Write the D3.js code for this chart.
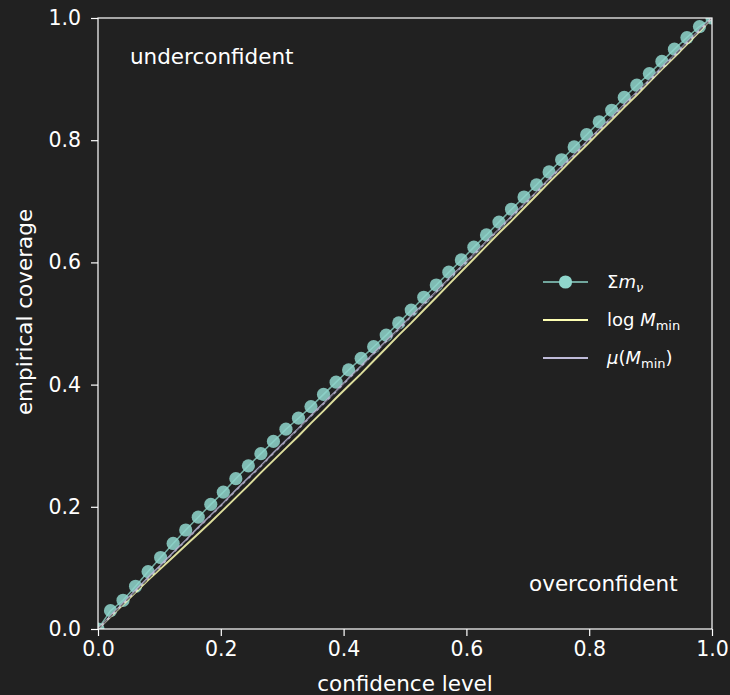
<!DOCTYPE html>
<html>
<head>
<meta charset="utf-8">
<script src="https://cdn.jsdelivr.net/npm/d3@7"></script>
<style>
  html, body { margin: 0; padding: 0; background: #212121; }
  svg text { font-family: "DejaVu Sans", sans-serif; fill: #ffffff; }
</style>
</head>
<body>
<div id="chart"></div>
<script>
// confidence levels (50 evenly spaced points)
var confidence = [0, 0.0204, 0.0408, 0.0612, 0.0816, 0.1020, 0.1224, 0.1429, 0.1633, 0.1837,
  0.2041, 0.2245, 0.2449, 0.2653, 0.2857, 0.3061, 0.3265, 0.3469, 0.3673, 0.3878,
  0.4082, 0.4286, 0.4490, 0.4694, 0.4898, 0.5102, 0.5306, 0.5510, 0.5714, 0.5918,
  0.6122, 0.6327, 0.6531, 0.6735, 0.6939, 0.7143, 0.7347, 0.7551, 0.7755, 0.7959,
  0.8163, 0.8367, 0.8571, 0.8776, 0.8980, 0.9184, 0.9388, 0.9592, 0.9796, 1.0];

// empirical coverage per parameter
var coverageMnu = [0, 0.03, 0.047, 0.07, 0.094, 0.117, 0.14, 0.162, 0.183, 0.204,
  0.224, 0.246, 0.267, 0.287, 0.307, 0.327, 0.345, 0.364, 0.384, 0.404,
  0.424, 0.443, 0.462, 0.481, 0.501, 0.522, 0.543, 0.563, 0.584, 0.604,
  0.625, 0.645, 0.666, 0.687, 0.707, 0.727, 0.748, 0.768, 0.789, 0.809,
  0.83, 0.849, 0.87, 0.89, 0.909, 0.929, 0.949, 0.968, 0.986, 1.0];
var coverageLogM = [0, 0.02, 0.04, 0.06, 0.08, 0.099, 0.118, 0.137, 0.156, 0.175,
  0.195, 0.215, 0.235, 0.256, 0.276, 0.296, 0.316, 0.337, 0.357, 0.378,
  0.398, 0.418, 0.439, 0.46, 0.481, 0.501, 0.522, 0.543, 0.564, 0.585,
  0.606, 0.627, 0.648, 0.668, 0.689, 0.71, 0.731, 0.751, 0.772, 0.792,
  0.813, 0.833, 0.854, 0.874, 0.895, 0.916, 0.936, 0.957, 0.978, 1.0];
var coverageMuM = [0, 0.021, 0.042, 0.063, 0.084, 0.104, 0.125, 0.145, 0.166, 0.186,
  0.206, 0.227, 0.247, 0.267, 0.288, 0.308, 0.328, 0.349, 0.369, 0.389,
  0.41, 0.43, 0.451, 0.471, 0.491, 0.512, 0.532, 0.552, 0.573, 0.593,
  0.613, 0.634, 0.654, 0.675, 0.695, 0.715, 0.736, 0.756, 0.776, 0.797,
  0.817, 0.837, 0.858, 0.878, 0.898, 0.919, 0.939, 0.96, 0.98, 1.0];

var tickValues = [0, 0.2, 0.4, 0.6, 0.8, 1.0];

var width = 730;
var height = 695;
var margin = { top: 18, right: 18, bottom: 66, left: 98 };
var plotW = 712 - margin.left;
var plotH = 629 - margin.top;

var svg = d3.select("#chart")
  .append("svg")
  .attr("width", width)
  .attr("height", height);

svg.append("rect")
  .attr("width", width)
  .attr("height", height)
  .attr("fill", "#212121");

var g = svg.append("g")
  .attr("transform", "translate(" + margin.left + "," + margin.top + ")");

var x = d3.scaleLinear().domain([0, 1]).range([0, plotW]);
var y = d3.scaleLinear().domain([0, 1]).range([plotH, 0]);

// axes
var xAxis = g.append("g")
  .attr("transform", "translate(0," + plotH + ")")
  .call(d3.axisBottom(x).tickValues(tickValues).tickFormat(d3.format(".1f")).tickSize(7).tickPadding(5));
var yAxis = g.append("g")
  .call(d3.axisLeft(y).tickValues(tickValues).tickFormat(d3.format(".1f")).tickSize(7).tickPadding(10));

[xAxis, yAxis].forEach(function(a) {
  a.select(".domain").remove();
  a.selectAll(".tick line").attr("stroke", "#ffffff").attr("stroke-width", 1.2);
  a.selectAll(".tick text")
    .attr("font-size", 20.5)
    .attr("font-family", "DejaVu Sans, sans-serif")
    .style("fill", "#ffffff");
});

// clip so markers at the corners are cut by the frame
g.append("clipPath").attr("id", "clip")
  .append("rect").attr("width", plotW).attr("height", plotH);

var plot = g.append("g").attr("clip-path", "url(#clip)");

var pts = function(vals) {
  return confidence.map(function(c, i) { return [c, vals[i]]; });
};
var line = d3.line()
  .x(function(d) { return x(d[0]); })
  .y(function(d) { return y(d[1]); });

// Σmν: line with markers
plot.append("path")
  .datum(pts(coverageMnu))
  .attr("d", line)
  .attr("fill", "none")
  .attr("stroke", "#8dd3c7")
  .attr("stroke-width", 1.5)
  .attr("opacity", 0.8);
plot.selectAll(".dot")
  .data(pts(coverageMnu))
  .enter()
  .append("circle")
  .attr("class", "dot")
  .attr("cx", function(d) { return x(d[0]); })
  .attr("cy", function(d) { return y(d[1]); })
  .attr("r", 6.6)
  .attr("fill", "#8fd6cc")
  .attr("opacity", 0.85);

// log M_min
plot.append("path")
  .datum(pts(coverageLogM))
  .attr("d", line)
  .attr("fill", "none")
  .attr("stroke", "#feffb3")
  .attr("stroke-width", 2)
  .attr("opacity", 0.85);

// mu(M_min)
plot.append("path")
  .datum(pts(coverageMuM))
  .attr("d", line)
  .attr("fill", "none")
  .attr("stroke", "#bfbbd9")
  .attr("stroke-width", 2)
  .attr("opacity", 0.85);

// reference diagonal
plot.append("path")
  .datum([[0, 0], [1, 1]])
  .attr("d", line)
  .attr("fill", "none")
  .attr("stroke", "#000000")
  .attr("stroke-width", 1.5)
  .attr("stroke-dasharray", "5,3")
  .attr("opacity", 0.45);

// frame
g.append("rect")
  .attr("width", plotW)
  .attr("height", plotH)
  .attr("fill", "none")
  .attr("stroke", "#ffffff")
  .attr("stroke-width", 1.2);

// annotations
g.append("text")
  .attr("x", x(0.052))
  .attr("y", y(0.925))
  .attr("font-size", 21.5)
  .text("underconfident");
g.append("text")
  .attr("x", x(0.702))
  .attr("y", y(0.063))
  .attr("font-size", 21.5)
  .text("overconfident");

// axis labels
svg.append("text")
  .attr("x", margin.left + plotW / 2)
  .attr("y", 691)
  .attr("text-anchor", "middle")
  .attr("font-size", 21.5)
  .text("confidence level");
svg.append("text")
  .attr("transform", "translate(32,312) rotate(-90)")
  .attr("text-anchor", "middle")
  .attr("font-size", 21.5)
  .text("empirical coverage");

// legend
var legend = svg.append("g").attr("transform", "translate(543,282)");
var rowGap = 38;

legend.append("line").attr("x1", 0).attr("x2", 45).attr("y1", 0).attr("y2", 0)
  .attr("stroke", "#8dd3c7").attr("stroke-width", 1.5);
legend.append("circle").attr("cx", 22.5).attr("cy", 0).attr("r", 6.6).attr("fill", "#8fd6cc");
legend.append("line").attr("x1", 0).attr("x2", 45).attr("y1", rowGap).attr("y2", rowGap)
  .attr("stroke", "#feffb3").attr("stroke-width", 2);
legend.append("line").attr("x1", 0).attr("x2", 45).attr("y1", rowGap * 2).attr("y2", rowGap * 2)
  .attr("stroke", "#bfbbd9").attr("stroke-width", 2);

var t1 = legend.append("text").attr("x", 64).attr("y", 6).attr("font-size", 18);
t1.append("tspan").text("Σ");
t1.append("tspan").attr("font-style", "italic").text("m");
t1.append("tspan").attr("font-style", "italic").attr("font-size", 13).attr("dy", 4).text("ν");

var t2 = legend.append("text").attr("x", 64).attr("y", rowGap + 6).attr("font-size", 18);
t2.append("tspan").text("log ");
t2.append("tspan").attr("font-style", "italic").text("M");
t2.append("tspan").attr("font-size", 13).attr("dy", 4).text("min");

var t3 = legend.append("text").attr("x", 64).attr("y", rowGap * 2 + 6).attr("font-size", 18);
t3.append("tspan").attr("font-style", "italic").text("μ");
t3.append("tspan").text("(");
t3.append("tspan").attr("font-style", "italic").text("M");
t3.append("tspan").attr("font-size", 13).attr("dy", 4).text("min");
t3.append("tspan").attr("dy", -4).text(")");
</script>
</body>
</html>
